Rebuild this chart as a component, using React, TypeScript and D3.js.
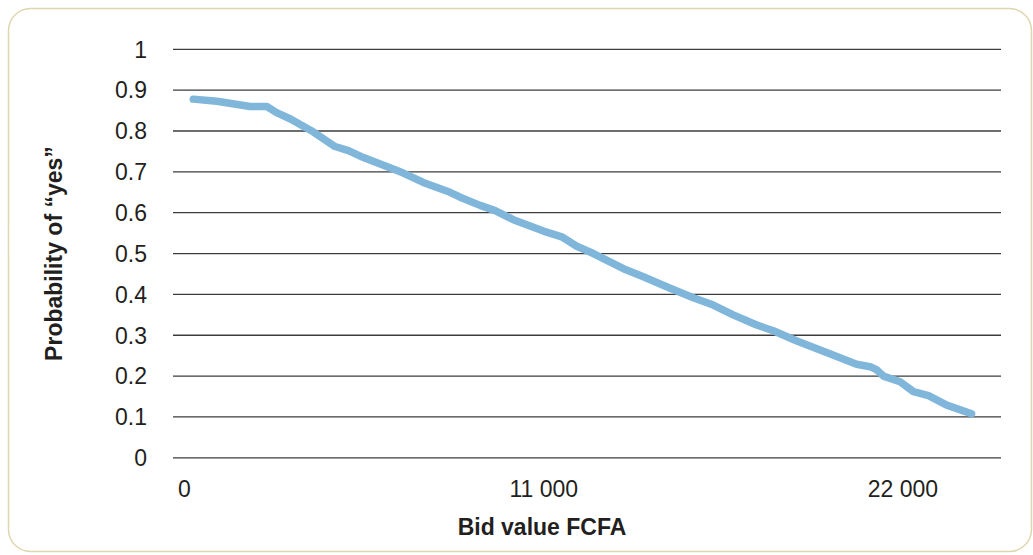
import React from "react";
import * as d3 from "d3";

const bidValues = [270, 990, 2010, 2520, 2820, 3230, 3940, 4610, 5020, 5480, 6290, 6700, 7310, 8130, 8440, 9050, 9510, 10070, 10990, 11550, 12010, 12520, 13440, 14050, 14870, 15580, 16190, 16800, 17520, 18030, 18750, 19660, 20580, 20990, 21200, 21400, 21910, 22320, 22780, 23340, 24100];
const probYes = [0.878, 0.873, 0.86, 0.86, 0.845, 0.83, 0.798, 0.762, 0.752, 0.735, 0.71, 0.697, 0.674, 0.65, 0.638, 0.618, 0.605, 0.583, 0.555, 0.541, 0.518, 0.5, 0.463, 0.443, 0.415, 0.392, 0.374, 0.35, 0.325, 0.311, 0.286, 0.258, 0.229, 0.223, 0.215, 0.2, 0.186, 0.162, 0.152, 0.129, 0.108];
const yTicks = [0, 0.1, 0.2, 0.3, 0.4, 0.5, 0.6, 0.7, 0.8, 0.9, 1];
const xTicks = [0, 11000, 22000];
const xTickLabels = ["0", "11 000", "22 000"];
const yTitle = "Probability of \u201cyes\u201d";
const xTitle = "Bid value FCFA";

const W = 1033;
const H = 555;
const plotLeft = 173;
const plotRight = 1001;
const font = "'Liberation Sans', Arial, Helvetica, sans-serif";
const textColor = "#231f20";

export default function App() {
  const x = d3.scaleLinear().domain([0, 22000]).range([184.5, 903]);
  const y = d3.scaleLinear().domain([0, 1]).range([457.8, 49.3]);
  const pts = bidValues.map((b, i) => [b, probYes[i]] as [number, number]);
  const line = d3
    .line<[number, number]>()
    .x((d) => x(d[0]))
    .y((d) => y(d[1]));

  return (
    <svg
      width={W}
      height={H}
      style={{ position: "absolute", left: 0, top: 0, background: "#fff" }}
      fontFamily={font}
    >
      <rect x={8.5} y={8.5} width={1023} height={543} rx={22} ry={22} fill="#fff" stroke="#ded6ad" strokeWidth={1.5} />
      {yTicks.map((t) => (
        <g key={t}>
          <line x1={plotLeft} x2={plotRight} y1={y(t)} y2={y(t)} stroke="#3c3c3c" strokeWidth={1.3} />
          <text x={147} y={y(t)} dy="0.36em" textAnchor="end" fontSize={23} fill={textColor}>
            {d3.format("~g")(t)}
          </text>
        </g>
      ))}
      {xTicks.map((t, i) => (
        <text key={t} x={x(t)} y={497} textAnchor="middle" fontSize={23} fill={textColor}>
          {xTickLabels[i]}
        </text>
      ))}
      <path d={line(pts) || ""} fill="none" stroke="#80b6da" strokeWidth={7.5} strokeLinecap="round" strokeLinejoin="round" />
      <text x={542} y={535} textAnchor="middle" fontSize={23} fontWeight="bold" fill={textColor}>
        {xTitle}
      </text>
      <text
        transform={`translate(62, ${(y(0) + y(1)) / 2}) rotate(-90)`}
        textAnchor="middle"
        fontSize={23}
        fontWeight="bold"
        fill={textColor}
      >
        {yTitle}
      </text>
    </svg>
  );
}
